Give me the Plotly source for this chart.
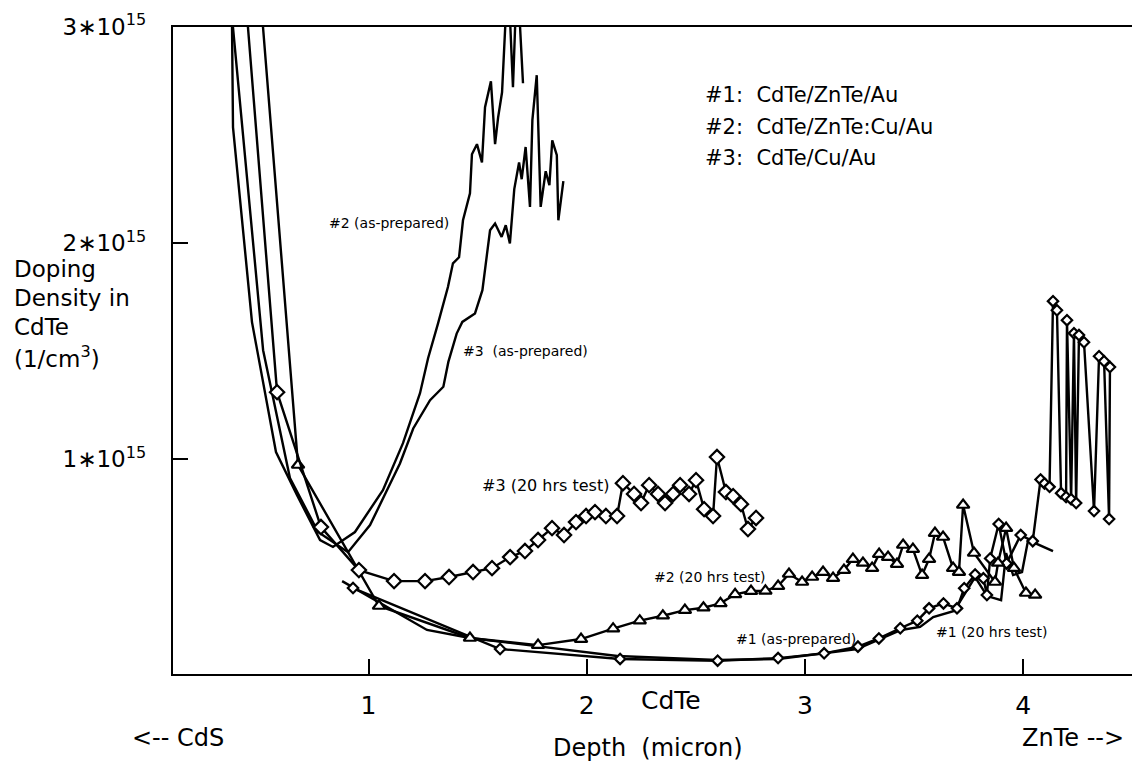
import plotly.graph_objects as go

# ---------------- data (depth in micron, doping density in 1e15 /cm^3) ----------------
x_2_asprep = [0.372, 0.379, 0.466, 0.576, 0.672, 0.778, 0.837, 0.938, 1.066, 1.158, 1.236, 1.273,
              1.319, 1.364, 1.387, 1.415, 1.433, 1.465, 1.474, 1.497, 1.520, 1.534, 1.561, 1.580,
              1.594, 1.612, 1.639, 1.662, 1.681, 1.708]
y_2_asprep = [3.26, 2.536, 1.635, 1.034, 0.835, 0.627, 0.595, 0.664, 0.858, 1.075, 1.306, 1.468,
              1.630, 1.797, 1.907, 1.935, 2.106, 2.231, 2.411, 2.458, 2.374, 2.629, 2.749, 2.458,
              2.582, 2.698, 3.26, 2.721, 3.26, 2.740]

x_3_asprep = [0.363, 0.517, 0.640, 0.769, 0.906, 1.007, 1.144, 1.205, 1.282, 1.343, 1.366, 1.404,
              1.430, 1.488, 1.522, 1.557, 1.580, 1.610, 1.629, 1.648, 1.668, 1.690, 1.702, 1.720,
              1.740, 1.751, 1.771, 1.789, 1.812, 1.829, 1.842, 1.863, 1.870, 1.893]
y_3_asprep = [3.17, 1.505, 0.914, 0.664, 0.571, 0.696, 0.981, 1.143, 1.274, 1.336, 1.451, 1.582,
              1.636, 1.675, 1.783, 2.060, 2.091, 2.029, 2.083, 1.999, 2.250, 2.373, 2.296, 2.445,
              2.168, 2.569, 2.777, 2.168, 2.333, 2.268, 2.476, 2.407, 2.106, 2.287]

x_3_20h = [0.434, 0.581, 0.782, 0.956, 1.117, 1.259, 1.369, 1.479, 1.566, 1.649, 1.717, 1.777,
           1.841, 1.896, 1.951, 1.997, 2.038, 2.088, 2.139, 2.166, 2.217, 2.249, 2.286, 2.327,
           2.359, 2.396, 2.428, 2.469, 2.501, 2.538, 2.579, 2.597, 2.638, 2.671, 2.707, 2.739, 2.776]
y_3_20h = [3.17, 1.311, 0.687, 0.488, 0.437, 0.437, 0.456, 0.479, 0.497, 0.548, 0.576, 0.627,
           0.682, 0.650, 0.710, 0.738, 0.756, 0.738, 0.738, 0.890, 0.840, 0.798, 0.881, 0.840,
           0.798, 0.840, 0.881, 0.840, 0.904, 0.770, 0.738, 1.011, 0.849, 0.830, 0.793, 0.678, 0.729]

x_2_20h = [0.503, 0.677, 1.048, 1.465, 1.777, 1.974, 2.121, 2.243, 2.349, 2.450, 2.535, 2.613,
           2.680, 2.753, 2.819, 2.877, 2.927, 2.987, 3.033, 3.083, 3.129, 3.179, 3.220, 3.266,
           3.308, 3.340, 3.381, 3.422, 3.450, 3.495, 3.537, 3.569, 3.596, 3.633, 3.679, 3.706,
           3.725, 3.775, 3.871, 3.885, 3.922, 3.958, 4.013, 4.055]
y_2_20h = [3.17, 0.974, 0.322, 0.174, 0.141, 0.169, 0.217, 0.254, 0.277, 0.303, 0.314, 0.334,
           0.376, 0.391, 0.392, 0.414, 0.470, 0.433, 0.456, 0.479, 0.451, 0.488, 0.539, 0.521,
           0.497, 0.562, 0.548, 0.516, 0.604, 0.585, 0.465, 0.539, 0.659, 0.641, 0.497, 0.479,
           0.789, 0.567, 0.433, 0.521, 0.682, 0.497, 0.382, 0.373]

x_1_line = [0.879, 1.268, 1.465, 1.777, 2.140, 2.597, 2.877, 3.239, 3.441, 3.528, 3.588, 3.684,
            3.780, 3.835, 3.899, 3.922, 3.954, 3.995, 4.023, 4.137]
y_1_line = [0.437, 0.211, 0.174, 0.137, 0.091, 0.072, 0.077, 0.123, 0.211, 0.225, 0.271, 0.299,
            0.456, 0.368, 0.349, 0.567, 0.465, 0.479, 0.627, 0.576]

x_1_dia = [0.929, 1.603, 2.153, 2.600, 2.877, 3.088, 3.243, 3.339, 3.437, 3.515, 3.569, 3.635,
           3.697, 3.730, 3.780, 3.818, 3.834, 3.849, 3.888, 3.924, 3.989, 4.044, 4.080, 4.098,
           4.121, 4.137, 4.155, 4.174, 4.197, 4.201, 4.220, 4.233, 4.243, 4.256, 4.279, 4.325,
           4.348, 4.371, 4.394, 4.398]
y_1_dia = [0.405, 0.123, 0.077, 0.069, 0.081, 0.103, 0.134, 0.172, 0.219, 0.254, 0.311, 0.334,
           0.311, 0.404, 0.468, 0.450, 0.373, 0.542, 0.701, 0.519, 0.650, 0.622, 0.907, 0.889,
           0.873, 1.732, 1.690, 0.844, 0.826, 1.644, 0.816, 1.584, 0.798, 1.575, 1.542, 0.761,
           1.477, 1.454, 0.724, 1.427]

x_ticks = [1, 2, 3, 4]
y_ticks = [1, 2, 3]
y_tick_text = ["1\u221710<sup>15</sup>", "2\u221710<sup>15</sup>", "3\u221710<sup>15</sup>"]

legend_lines = ["#1:\u00a0 CdTe/ZnTe/Au", "#2:\u00a0 CdTe/ZnTe:Cu/Au", "#3:\u00a0 CdTe/Cu/Au"]
ytitle_lines = ["Doping", "Density in", "CdTe", "(1/cm<sup>3</sup>)"]

# ---------------- layout geometry ----------------
W, H = 1132, 764
L, R, T, B = 173, 0, 27, 90
PW, PH = W - L - R, H - T - B
FONT = "DejaVu Sans"


def pxx(xp):
    return (xp - L) / PW


def pxy(yp):
    return (H - B - yp) / PH


fig = go.Figure()
ln = dict(color="black", width=2.4)

fig.add_trace(go.Scatter(x=x_2_asprep, y=y_2_asprep, mode="lines", line=ln, name="#2 as-prepared"))
fig.add_trace(go.Scatter(x=x_3_asprep, y=y_3_asprep, mode="lines", line=ln, name="#3 as-prepared"))
fig.add_trace(go.Scatter(x=x_1_line, y=y_1_line, mode="lines", line=ln, name="#1 line"))
fig.add_trace(go.Scatter(x=x_1_dia, y=y_1_dia, mode="lines+markers", line=ln, name="#1 diamonds",
                         marker=dict(symbol="diamond", size=8, color="white",
                                     line=dict(color="black", width=2.2))))
fig.add_trace(go.Scatter(x=x_2_20h, y=y_2_20h, mode="lines+markers", line=ln, name="#2 20 hrs",
                         marker=dict(symbol="triangle-up", size=11, color="white",
                                     line=dict(color="black", width=2.2))))
fig.add_trace(go.Scatter(x=x_3_20h, y=y_3_20h, mode="lines+markers", line=ln, name="#3 20 hrs",
                         marker=dict(symbol="diamond", size=11, color="white",
                                     line=dict(color="black", width=2.2))))

ann = []


def add_text(text, xp, yp, size, xanchor="center"):
    ann.append(dict(text=text, x=pxx(xp), y=pxy(yp), xref="paper", yref="paper",
                    xanchor=xanchor, yanchor="middle", showarrow=False,
                    font=dict(family=FONT, size=size, color="black")))


# curve labels
add_text("#2 (as-prepared)", 389, 223, 14)
add_text("#3\u00a0 (as-prepared)", 525, 351, 14)
add_text("#3 (20 hrs test)", 545, 485, 16)
add_text("#2 (20 hrs test)", 710, 577, 14)
add_text("#1 (as-prepared)", 796, 639, 14)
add_text("#1 (20 hrs test)", 992, 632, 14)

# legend-like text block
for t, yp in zip(legend_lines, [95, 127, 158]):
    add_text(t, 703, yp, 21, xanchor="left")

# y-axis title lines
for t, yp in zip(ytitle_lines, [269, 298, 327, 357]):
    add_text(t, 12, yp, 23, xanchor="left")

# x-axis extra labels
add_text("CdTe", 671, 700, 25)
add_text("<-- CdS", 178, 738, 24)
add_text("Depth\u00a0 (micron)", 648, 748, 24)
add_text("ZnTe -->", 1020, 738, 24, xanchor="left")

fig.update_layout(
    width=W, height=H,
    margin=dict(l=L, r=R, t=T, b=B, pad=0),
    paper_bgcolor="white", plot_bgcolor="white",
    showlegend=False,
    font=dict(family=FONT, color="black"),
    annotations=ann,
    xaxis=dict(range=[0.104, 4.499], showgrid=False, zeroline=False,
               showline=True, linecolor="black", linewidth=2.4, mirror=True,
               ticks="inside", ticklen=15, tickwidth=2.2, tickcolor="black",
               tickvals=x_ticks, ticktext=[str(v) for v in x_ticks],
               tickfont=dict(family=FONT, size=25, color="black"),
               ticklabelstandoff=8),
    yaxis=dict(range=[0.0074, 3.0], showgrid=False, zeroline=False,
               showline=True, linecolor="black", linewidth=2.4, mirror=False,
               ticks="inside", ticklen=15, tickwidth=2.2, tickcolor="black",
               tickvals=y_ticks, ticktext=y_tick_text,
               tickfont=dict(family=FONT, size=23, color="black"),
               ticklabelstandoff=20),
)

fig.write_html("out.html")
